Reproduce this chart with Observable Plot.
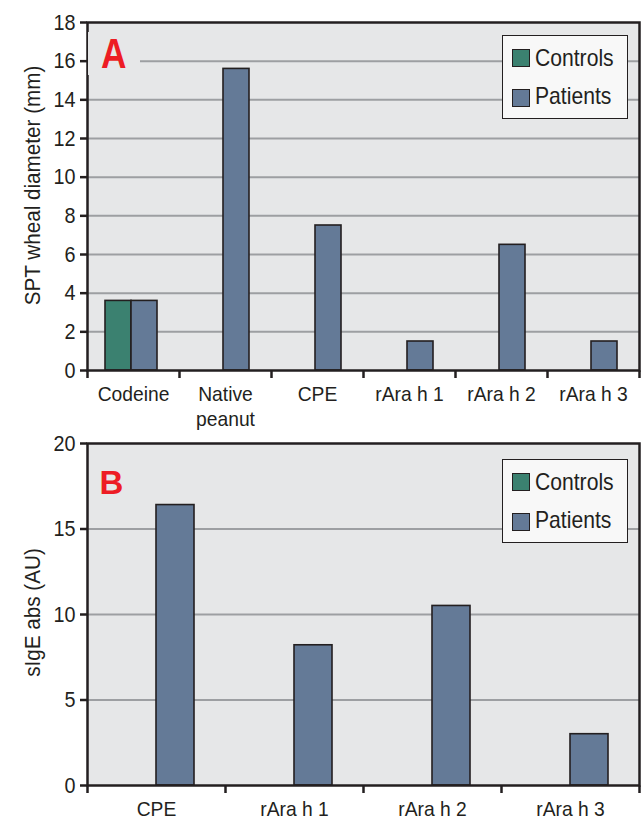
<!DOCTYPE html>
<html><head><meta charset="utf-8">
<script src="https://cdn.jsdelivr.net/npm/d3@7"></script>
<script src="https://cdn.jsdelivr.net/npm/@observablehq/plot@0.6"></script>
<style>
body{margin:0;background:#fff;}
#wrap{position:relative;width:641px;height:821px;font-family:"Liberation Sans",Arial,sans-serif;color:#231f20;}
.panel{position:absolute;left:0;}
.legend{position:absolute;left:502px;width:126px;height:84px;box-sizing:border-box;border:1.5px solid #231f20;background:#f8f8f8;}
.sw{position:absolute;left:8.5px;width:18px;height:18px;box-sizing:border-box;border:1.5px solid #231f20;}
.lt{position:absolute;left:32px;font-size:24px;line-height:24px;white-space:nowrap;transform:scaleX(0.88);transform-origin:0 50%;}
.tag{position:absolute;color:#ed1c24;font-weight:bold;box-sizing:border-box;}
.tag span{display:inline-block;transform-origin:0 50%;}
</style></head>
<body><div id="wrap"></div>
<script>
// ---- data ----
const groups = ["Controls", "Patients"];
const groupColors = ["#3b8170", "#647a97"];

const categoriesA = ["Codeine", "Native\npeanut", "CPE", "rAra h 1", "rAra h 2", "rAra h 3"];
const controlsA = [3.6, null, null, null, null, null];
const patientsA = [3.6, 15.6, 7.5, 1.5, 6.5, 1.5];
const yTicksA = [0, 2, 4, 6, 8, 10, 12, 14, 16, 18];
const yLabelA = "SPT wheal diameter (mm)";

const categoriesB = ["CPE", "rAra h 1", "rAra h 2", "rAra h 3"];
const controlsB = [null, null, null, null];
const patientsB = [16.4, 8.2, 10.5, 3.0];
const yTicksB = [0, 5, 10, 15, 20];
const yLabelB = "sIgE abs (AU)";

// ---- helpers ----
function rowsFor(categories, controls, patients) {
  const rows = [];
  categories.forEach((c, i) => {
    if (controls[i] != null) rows.push({category: c, group: groups[0], value: controls[i]});
    if (patients[i] != null) rows.push({category: c, group: groups[1], value: patients[i]});
  });
  return rows;
}

const tickSymbol = {draw(ctx) { ctx.moveTo(0, 0); ctx.lineTo(0, 7.5); }};
const ink = "#231f20";
const font = '"Liberation Sans",Arial,sans-serif';

// condense text horizontally (the reference uses a narrow face)
function condense(svg, selector, k) {
  d3.select(svg).selectAll(selector).each(function() {
    const t = this.getAttribute("transform");
    if (t) this.setAttribute("transform", t + ` scale(${k},1)`);
  });
}

function panel({categories, rows, yTicks, yLabel, height, marginTop, marginBottom, paddingOuter, align, labelDy}) {
  const yMax = yTicks[yTicks.length - 1];
  const svg = Plot.plot({
    width: 641,
    height,
    marginLeft: 86,
    marginRight: 1,
    marginTop,
    marginBottom,
    style: {fontFamily: font, color: ink, background: "transparent", overflow: "visible"},
    fx: {domain: categories, padding: 0},
    x: {domain: groups, paddingInner: 0, paddingOuter, align, axis: null},
    y: {domain: [0, yMax], axis: null},
    color: {domain: groups, range: groupColors},
    marks: [
      Plot.frame({facet: "super", fill: "#e6e7e8"}),
      Plot.gridY(yTicks.filter(t => t > 0 && t < yMax), {stroke: "#9d9fa2", strokeOpacity: 1, strokeWidth: 2}),
      Plot.barY(rows, {fx: "category", x: "group", y: "value", fill: "group", stroke: ink, strokeWidth: 1.6}),
      Plot.frame({facet: "super", stroke: ink, strokeWidth: 2.5}),
      Plot.axisY(yTicks, {tickSize: 7, tickPadding: 5, fontSize: 22, stroke: ink, strokeWidth: 2.5, fill: ink, label: null}),
      Plot.axisFx({anchor: "bottom", tickSize: 0, tickPadding: 13, fontSize: 20.5, lineHeight: 1.2, fill: ink, label: null}),
      Plot.dot(categories, {fx: d => d, x: null, y: null, frameAnchor: "bottom-left", symbol: tickSymbol, fill: "none", stroke: ink, strokeWidth: 2.5}),
      Plot.dot(categories.slice(-1), {fx: d => d, x: null, y: null, frameAnchor: "bottom-right", symbol: tickSymbol, fill: "none", stroke: ink, strokeWidth: 2.5}),
      Plot.text([yLabel], {facet: "super", frameAnchor: "left", textAnchor: "middle", rotate: -90, dx: -48, dy: labelDy, lineAnchor: "bottom", fontSize: 22, fill: ink})
    ]
  });
  condense(svg, 'g[aria-label="y-axis tick label"] text', 0.9);
  condense(svg, 'g[aria-label="fx-axis tick label"] text', 0.94);
  condense(svg, 'g[aria-label="text"] text', 0.94);
  return svg;
}

const wrap = document.getElementById("wrap");

const svgA = panel({categories: categoriesA, rows: rowsFor(categoriesA, controlsA, patientsA), yTicks: yTicksA, yLabel: yLabelA,
  height: 430, marginTop: 22, marginBottom: 60, paddingOuter: 0.71, align: 0.46, labelDy: -11});
svgA.classList.add("panel"); svgA.style.top = "0px";
wrap.appendChild(svgA);

const svgB = panel({categories: categoriesB, rows: rowsFor(categoriesB, controlsB, patientsB), yTicks: yTicksB, yLabel: yLabelB,
  height: 391, marginTop: 13, marginBottom: 36, paddingOuter: 0.776, align: 0.5, labelDy: -2});
svgB.classList.add("panel"); svgB.style.top = "430px";
wrap.appendChild(svgB);

// ---- legends ----
function legend(top) {
  const box = document.createElement("div");
  box.className = "legend";
  box.style.top = top + "px";
  groups.forEach((g, i) => {
    const sw = document.createElement("div");
    sw.className = "sw";
    sw.style.top = (13 + 40 * i) + "px";
    sw.style.background = groupColors[i];
    box.appendChild(sw);
    const t = document.createElement("div");
    t.className = "lt";
    t.style.top = (9.9 + 38.3 * i) + "px";
    t.textContent = g;
    box.appendChild(t);
  });
  wrap.appendChild(box);
}
legend(35.3);
legend(459.3);

// ---- panel tags ----
function tag(letter, boxStyle, spanStyle) {
  const d = document.createElement("div");
  d.className = "tag";
  Object.assign(d.style, boxStyle);
  const s = document.createElement("span");
  s.textContent = letter;
  Object.assign(s.style, spanStyle);
  d.appendChild(s);
  wrap.appendChild(d);
}
tag("A", {left: "87.5px", top: "31.6px", width: "52.5px", height: "43px", paddingLeft: "13.5px", fontSize: "43px", lineHeight: "43px", background: "#e6e7e8"},
  {transform: "scaleX(0.82)"});
tag("B", {left: "99.5px", top: "466px", fontSize: "33px", lineHeight: "33px"}, {});
</script>
</body></html>
